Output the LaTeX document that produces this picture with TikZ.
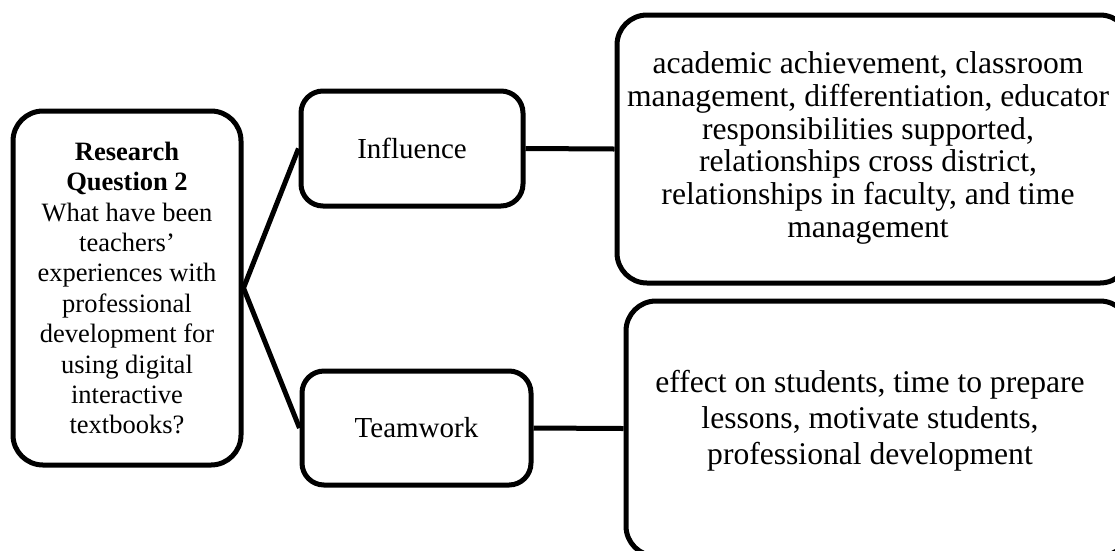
\documentclass[tikz,border=0pt]{standalone}
\usepackage{fontspec}
\setmainfont{Liberation Serif}
\begin{document}
\begin{tikzpicture}[x=1pt,y=-1pt,
  box/.style={draw=black, line width=5pt, rounded corners=#1, fill=white,
    align=center, inner sep=0pt},
  box/.default=22pt,
  link/.style={line width=5pt},
  txt/.style={align=center, inner sep=0pt}]
\useasboundingbox (0,0) rectangle (1115,550);

% research question
\node[box=30pt, minimum width=228pt, minimum height=354pt,
      font=\fontsize{26.5}{30.4}\selectfont] (rq) at (127,288)
  {\textbf{Research}\\\textbf{Question 2}\\What have been\\teachers’\\experiences with\\professional\\development for\\using digital\\interactive\\textbooks?};

% themes
\node[box, minimum width=222pt, minimum height=115pt,
      font=\fontsize{29}{33}\selectfont] (inf) at (412,148.5) {Influence};
\node[box, minimum width=229pt, minimum height=114pt,
      font=\fontsize{29}{33}\selectfont] (tw) at (416.5,428) {Teamwork};

% details
\node[box=30pt, minimum width=513pt, minimum height=268pt] (d1) at (873.5,149) {};
\node[txt, font=\fontsize{31.6}{32.7}\selectfont] (d1t) at (868,148)
  {academic achievement, classroom\\management, differentiation, educator\\responsibilities supported,\\relationships cross district,\\relationships in faculty, and time\\management};
\node[box=30pt, minimum width=504pt, minimum height=255pt] (d2) at (878,428.5) {};
\node[txt, font=\fontsize{31.6}{36}\selectfont] (d2t) at (870,421)
  {effect on students, time to prepare\\lessons, motivate students,\\professional development};

% connectors
\draw[link] (rq.east) -- (inf.west);
\draw[link] (rq.east) -- (tw.west);
\draw[link] (inf.east) -- (d1.west);
\draw[link] (tw.east) -- (d2.west);
\end{tikzpicture}
\end{document}
